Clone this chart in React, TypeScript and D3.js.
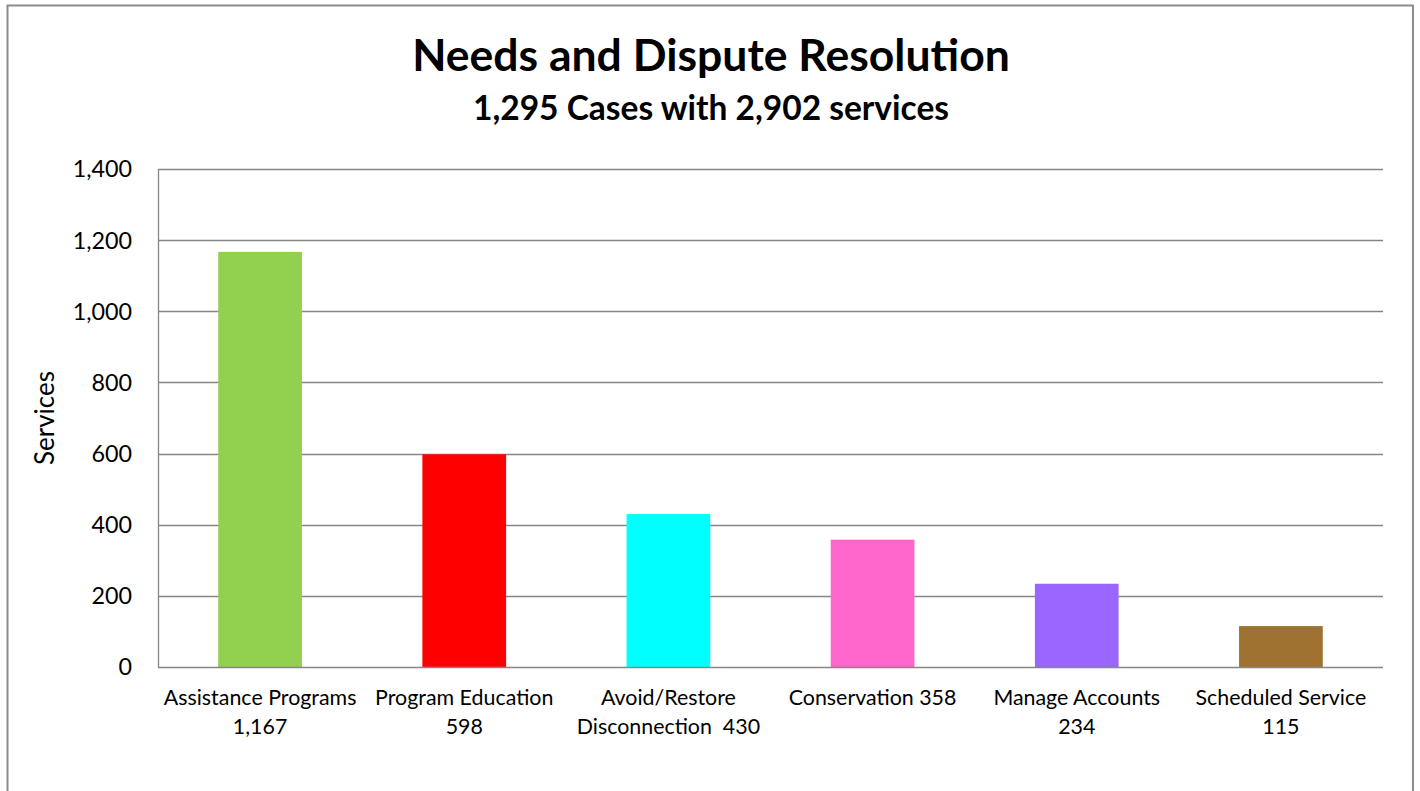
import React from "react";
import * as d3 from "d3";

const categories = [
  "Assistance Programs",
  "Program Education",
  "Avoid/Restore Disconnection",
  "Conservation",
  "Manage Accounts",
  "Scheduled Service",
];
const values = [1167, 598, 430, 358, 234, 115];
const barColors = ["#92D050", "#FF0000", "#00FFFF", "#FF66CC", "#9966FF", "#A07232"];
const categoryLabels = [
  ["Assistance Programs", "1,167"],
  ["Program Education", "598"],
  ["Avoid/Restore", "Disconnection  430"],
  ["Conservation 358"],
  ["Manage Accounts", "234"],
  ["Scheduled Service", "115"],
];
const yTicks = [0, 200, 400, 600, 800, 1000, 1200, 1400];
const title = "Needs and Dispute Resolution";
const subtitle = "1,295 Cases with 2,902 services";
const yAxisTitle = "Services";

const W = 1420;
const H = 791;
const FONT = "Lato, 'Open Sans', sans-serif";

export default function App() {
  const plot = { left: 158, right: 1383, top: 169, bottom: 667 };
  const x = d3
    .scaleBand<string>()
    .domain(categories)
    .range([plot.left, plot.right])
    .paddingInner(0.59)
    .paddingOuter(0.295);
  const y = d3.scaleLinear().domain([0, 1400]).range([plot.bottom, plot.top]);
  const fmt = d3.format(",");
  const grid = "#868686";

  return (
    <svg
      width={W}
      height={H}
      style={{ position: "absolute", left: 0, top: 0, background: "#fff" }}
      fontFamily={FONT}
    >
      <rect x={0} y={0} width={W} height={H} fill="#fff" />
      <rect x={7.5} y={5.5} width={1405.5} height={820} fill="#fff" stroke="#8c8c8c" strokeWidth={2} />

      <text x={711} y={71} textAnchor="middle" fontSize={44.5} fontWeight="bold" fill="#000">
        {title}
      </text>
      <text x={711} y={120} textAnchor="middle" fontSize={33.5} fontWeight="bold" fill="#000">
        {subtitle}
      </text>

      {yTicks.map((t) => (
        <g key={t}>
          {t > 0 && (
            <line
              x1={plot.left}
              x2={plot.right}
              y1={Math.round(y(t)) + 0.5}
              y2={Math.round(y(t)) + 0.5}
              stroke={grid}
              strokeWidth={1.3}
            />
          )}
          <text
            x={132}
            y={y(t)}
            dy="0.36em"
            textAnchor="end"
            fontSize={23.3}
            fill="#000"
          >
            {fmt(t)}
          </text>
        </g>
      ))}

      {categories.map((c, i) => (
        <rect
          key={c}
          x={x(c)!}
          y={y(values[i])}
          width={x.bandwidth()}
          height={y(0) - y(values[i])}
          fill={barColors[i]}
        />
      ))}

      <line x1={plot.left + 0.5} x2={plot.left + 0.5} y1={plot.top} y2={plot.bottom} stroke={grid} strokeWidth={1.3} />
      <line x1={plot.left} x2={plot.right} y1={plot.bottom + 0.5} y2={plot.bottom + 0.5} stroke={grid} strokeWidth={1.3} />

      {categories.map((c, i) => (
        <text
          key={c}
          x={x(c)! + x.bandwidth() / 2}
          y={705}
          textAnchor="middle"
          fontSize={21.4}
          fill="#000"
        >
          {categoryLabels[i].map((line, j) => (
            <tspan key={j} x={x(c)! + x.bandwidth() / 2} y={705 + j * 29} style={{ whiteSpace: "pre" }}>
              {line}
            </tspan>
          ))}
        </text>
      ))}

      <text
        transform={`translate(54, ${(plot.top + plot.bottom) / 2}) rotate(-90)`}
        textAnchor="middle"
        fontSize={26}
        fill="#000"
      >
        {yAxisTitle}
      </text>
    </svg>
  );
}
